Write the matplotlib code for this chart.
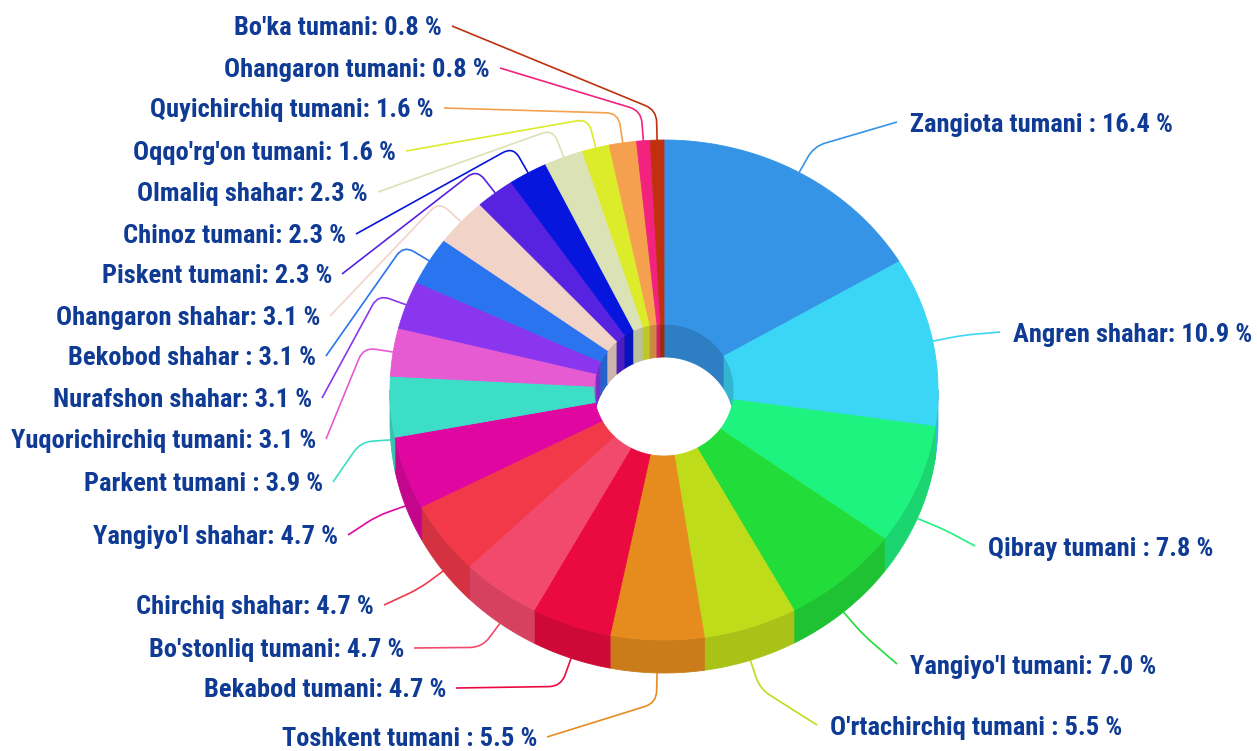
import matplotlib as mpl
mpl.use('Agg')
import numpy as np
import matplotlib.pyplot as plt
from matplotlib import font_manager
from matplotlib.font_manager import FontProperties
from matplotlib.path import Path
from matplotlib.patches import PathPatch, Polygon
from matplotlib.colors import to_rgb

# data, clockwise from 12 o'clock
regions = ["Zangiota tumani ", "Angren shahar", "Qibray tumani ", "Yangiyo'l tumani",
           "O'rtachirchiq tumani ", "Toshkent tumani ", "Bekabod tumani", "Bo'stonliq tumani",
           "Chirchiq shahar", "Yangiyo'l shahar", "Parkent tumani ", "Yuqorichirchiq tumani",
           "Nurafshon shahar", "Bekobod shahar ", "Ohangaron shahar", "Piskent tumani",
           "Chinoz tumani", "Olmaliq shahar", "Oqqo'rg'on tumani", "Quyichirchiq tumani",
           "Ohangaron tumani", "Bo'ka tumani"]
shares = [16.4, 10.9, 7.8, 7.0, 5.5, 5.5, 4.7, 4.7, 4.7, 4.7, 3.9, 3.1,
          3.1, 3.1, 3.1, 2.3, 2.3, 2.3, 1.6, 1.6, 0.8, 0.8]
colors = ['#3594e6', '#3bd5f5', '#1ef27f', '#22dc3a', '#bfdc1b', '#e68c1e',
          '#ea0a40', '#f24a6c', '#f2394a', '#df07a0', '#3ddec8', '#e65bd2',
          '#8a36ee', '#2a74f0', '#f2d3c8', '#5722e0', '#0616dc', '#dbe2b6',
          '#dcec2a', '#f4a04e', '#f2227e', '#c0300e']

# label placement (pixel layout): x = text edge next to the line, y = text centre
label_x = [910, 1013, 988, 910, 830, 537, 446, 404, 374, 338, 323, 316,
           312, 316, 320, 332, 346, 368, 396, 434, 490, 442]
label_y = [125, 335, 549, 667, 728, 739, 690, 650, 607, 537, 484, 441,
           400, 358, 318, 276, 236, 194, 153, 110, 70, 28]

W, H = 1257, 751
TXT = '#0f3b94'

# pie geometry (pixels)
cx, cy, rx, ry = 664, 390, 274, 250
irx, iry = 70, 66
depth = 33

# look for a narrow bold face like the original, else plain Liberation Sans bold
font = dict(family='Liberation Sans', fontweight='bold')
narrow = [f for f in font_manager.fontManager.ttflist
          if ('Narrow' in f.name or 'Condensed' in f.name or f.stretch in ('condensed', 'semi-condensed'))
          and f.weight in ('bold', 700, 600, 'semibold', 'demibold') and f.style == 'normal']
for pref in ['Liberation Sans Narrow', 'Arial Narrow', 'Roboto Condensed', 'Open Sans Condensed',
             'Noto Sans', 'DejaVu Sans']:
    hit = [f for f in narrow if f.name.startswith(pref)]
    if hit:
        font = dict(fontproperties=FontProperties(fname=hit[0].fname))
        break

fig = plt.figure(figsize=(W / 100, H / 100), dpi=100)
ax = fig.add_axes([0, 0, 1, 1])
ax.set_xlim(0, W)
ax.set_ylim(H, 0)
ax.axis('off')


def txt(x, y, s, size, **kw):
    if 'fontproperties' in font:
        fp = font['fontproperties'].copy()
        fp.set_size(size)
        return ax.text(x, y, s, fontproperties=fp, **kw)
    return ax.text(x, y, s, fontsize=size, **font, **kw)


# fit the font size to the text width seen in the picture
probe = txt(0, 0, "Yuqorichirchiq tumani: 3.1 %", 10)
fig.canvas.draw()
fsize = 10 * 306 / probe.get_window_extent().width
probe.remove()


def ell(t, a, b, dy=0.0):
    t = np.radians(t)
    return np.column_stack([cx + a * np.cos(t), cy - b * np.sin(t) + dy])


def darker(c, f):
    return tuple(np.clip(np.array(to_rgb(c)) * f, 0, 1))


fr = np.array(shares) / np.sum(shares)
cum = np.concatenate([[0], np.cumsum(fr)])
t_start = 90 - 360 * cum[:-1]
t_end = 90 - 360 * cum[1:]
t_mid = (t_start + t_end) / 2

# outer side walls (front half)
for ts, te, c in zip(t_start, t_end, colors):
    lo, hi = max(te, -180), min(ts, 0)
    if hi <= lo:
        continue
    tt = np.linspace(hi, lo, 60)
    pts = np.vstack([ell(tt, rx, ry), ell(tt[::-1], rx, ry, depth)])
    ax.add_patch(Polygon(pts, closed=True, fc=darker(c, 0.88), ec=darker(c, 0.88), lw=0.6, zorder=2))

# inner wall (back half of the hole)
for ts, te, c in zip(t_start, t_end, colors):
    for a, b in [(0, 90), (-270, -180)]:
        lo, hi = max(te, a), min(ts, b)
        if hi <= lo:
            continue
        tt = np.linspace(hi, lo, 40)
        pts = np.vstack([ell(tt, irx, iry), ell(tt[::-1], irx, iry, depth)])
        ax.add_patch(Polygon(pts, closed=True, fc=darker(c, 0.85), ec=darker(c, 0.85), lw=0.6, zorder=2))

# top faces
for ts, te, c in zip(t_start, t_end, colors):
    tt = np.linspace(ts, te, max(int(abs(ts - te)) * 2, 4))
    pts = np.vstack([ell(tt, rx, ry), ell(tt[::-1], irx, iry)])
    ax.add_patch(Polygon(pts, closed=True, fc=c, ec=c, lw=0.6, zorder=3))

# labels and leader lines
for i, (name, v, c) in enumerate(zip(regions, shares, colors)):
    tm = t_mid[i]
    front = np.sin(np.radians(tm)) < 0
    dy = depth if front else 0
    E = ell([tm], rx, ry, dy)[0]
    B = ell([tm], rx + 30, ry + 30, dy)[0]
    right = label_x[i] > cx + 100
    if right:
        L = np.array([label_x[i] - 13, label_y[i] - 3])
        ha = 'left'
    else:
        L = np.array([label_x[i] + 10, label_y[i] - 2])
        ha = 'right'
    d1 = np.linalg.norm(E - B)
    d2 = np.linalg.norm(L - B)
    r = min(12, 0.5 * d1, 0.5 * d2)
    P1 = B + (E - B) / d1 * r
    P2 = B + (L - B) / d2 * r
    path = Path([E, P1, B, P2, L],
                [Path.MOVETO, Path.LINETO, Path.CURVE3, Path.CURVE3, Path.LINETO])
    ax.add_patch(PathPatch(path, fc='none', ec=c, lw=1.2, zorder=1))
    txt(label_x[i], label_y[i], f"{name}: {v:.1f} %", fsize, ha=ha, va='center',
        color=TXT, zorder=5)

fig.savefig('out.png', dpi=100)
plt.close(fig)
